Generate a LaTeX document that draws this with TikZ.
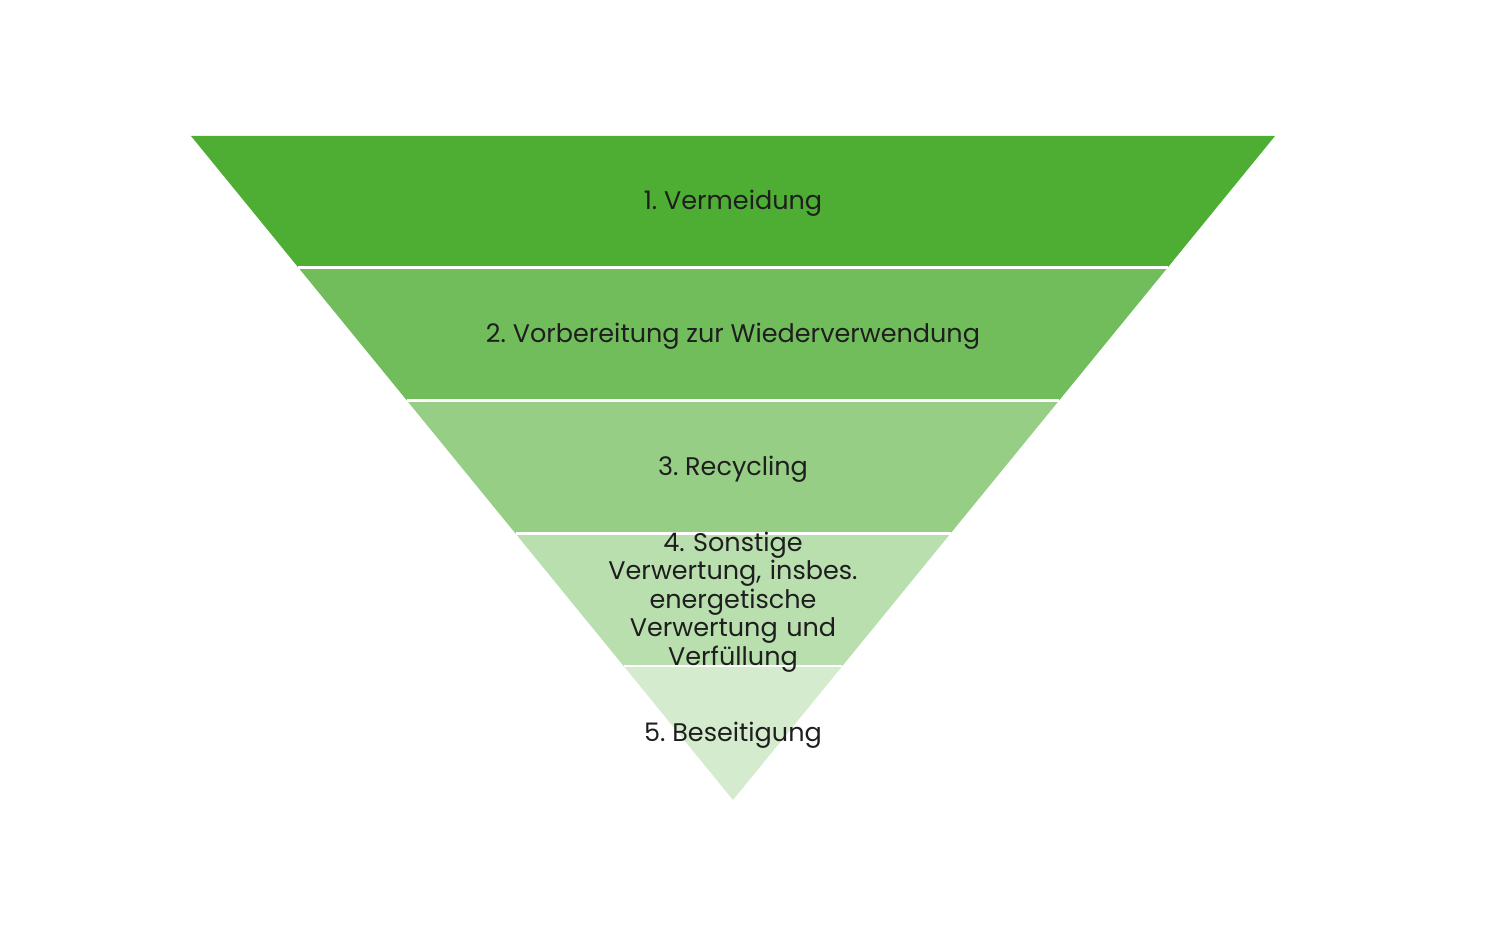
\documentclass[tikz,border=0pt]{standalone}
\usepackage{fontspec}
\setmainfont{Poppins}
\frenchspacing
\definecolor{bandA}{HTML}{4EAD33}
\definecolor{bandB}{HTML}{71BD5C}
\definecolor{bandC}{HTML}{97CE86}
\definecolor{bandD}{HTML}{B9DFAF}
\definecolor{bandE}{HTML}{D5EBCE}
\definecolor{txt}{HTML}{1E1E1E}
\begin{document}
\begin{tikzpicture}[x=1pt,y=-1pt,
  lbl/.style={text=txt,font=\fontsize{25.5}{28.5}\selectfont,align=center,inner sep=0pt},
  sep/.style={draw=white,line width=3pt}]
\useasboundingbox (0,0) rectangle (1500,939);
\fill[bandA] (191,136) -- (1275,136) -- (1167.7,267.5) -- (298.3,267.5) -- cycle;
\fill[bandB] (298.3,267.5) -- (1167.7,267.5) -- (1059.1,400.5) -- (406.9,400.5) -- cycle;
\fill[bandC] (406.9,400.5) -- (1059.1,400.5) -- (950.5,533.5) -- (515.5,533.5) -- cycle;
\fill[bandD] (515.5,533.5) -- (950.5,533.5) -- (842.4,666) -- (623.6,666) -- cycle;
\fill[bandE] (623.6,666) -- (842.4,666) -- (733,800) -- cycle;
\draw[sep] (298.3,267.5) -- (1167.7,267.5);
\draw[sep] (406.9,400.5) -- (1059.1,400.5);
\draw[sep] (515.5,533.5) -- (950.5,533.5);
\draw[sep,line width=1.5pt] (623.6,666) -- (842.4,666);
\node[lbl] (t1) at (733,203) {1. Vermeidung};
\node[lbl] (t2) at (733,336) {2. Vorbereitung zur Wiederverwendung};
\node[lbl] (t3) at (733,469) {3. Recycling};
\node[lbl,text width=320pt] (t4) at (733,602) {4. Sonstige\\Verwertung, insbes.\\energetische\\Verwertung und\\Verfüllung};
\node[lbl] (t5) at (733,735) {5. Beseitigung};
\end{tikzpicture}
\end{document}
